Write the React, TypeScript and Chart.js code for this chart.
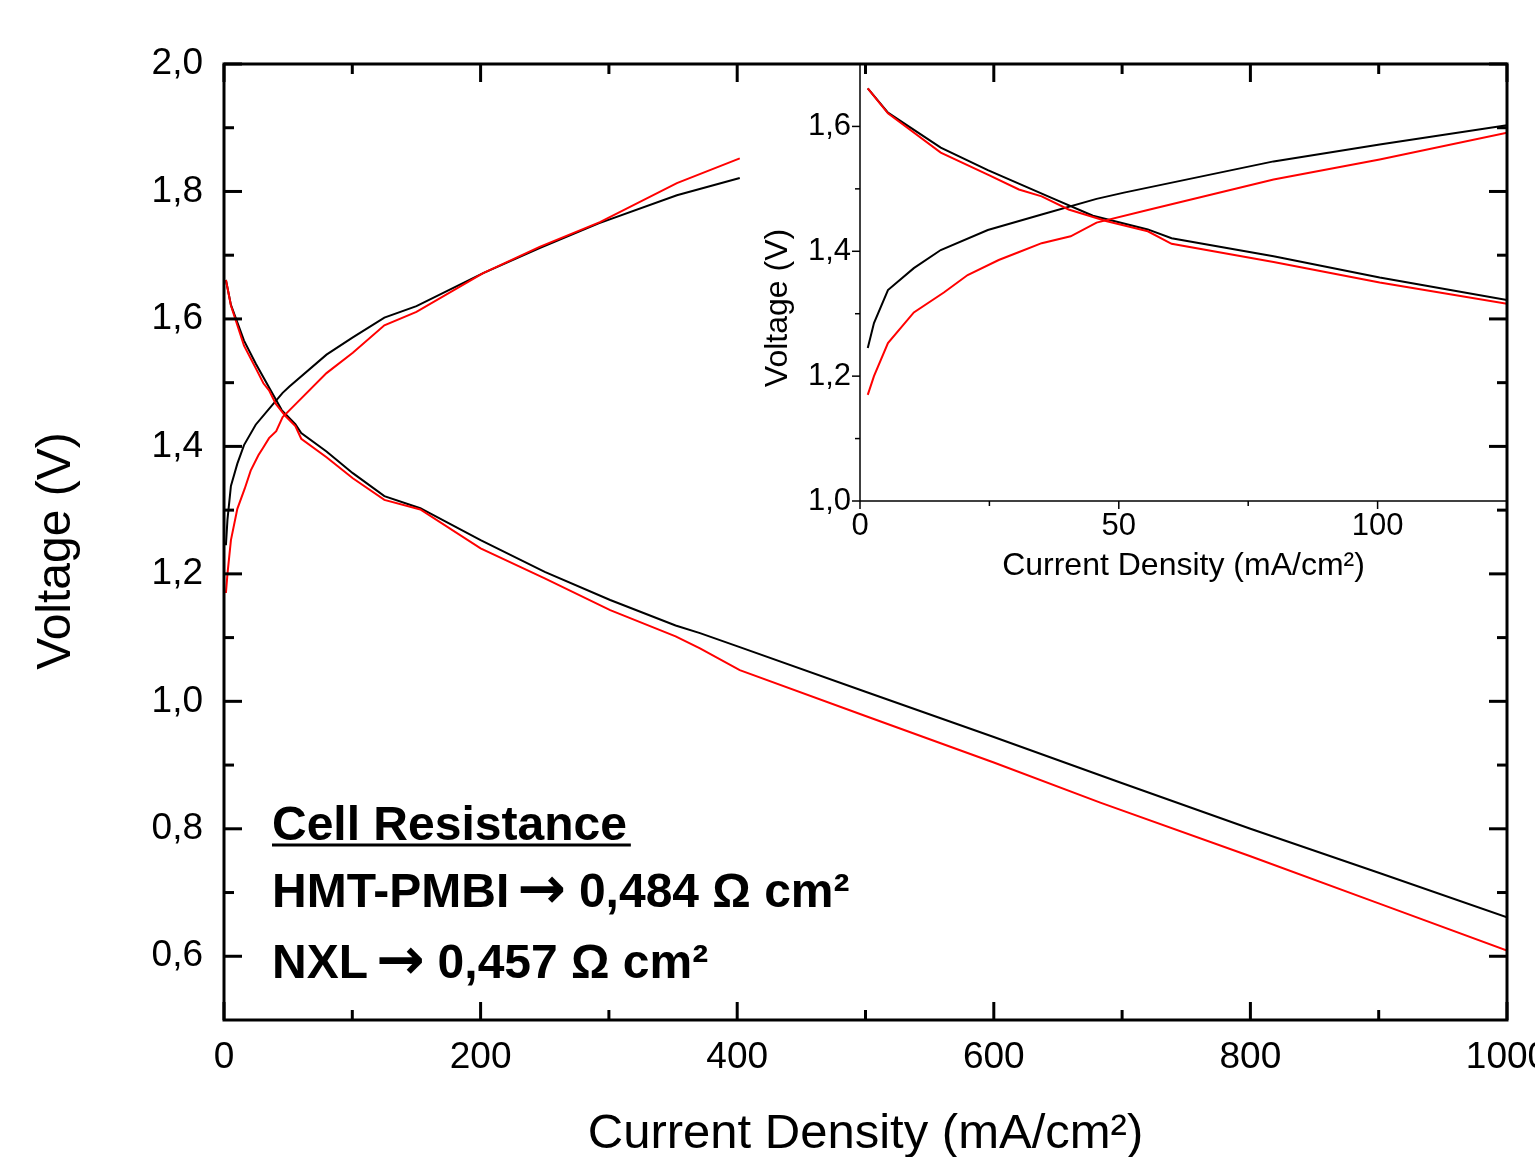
import React, { useEffect, useRef } from 'react';
import { Chart, registerables } from 'chart.js';

Chart.register(...registerables);

// ---------- data (current density mA/cm², voltage V) ----------
// HMT-PMBI (black), falling branch
const hmtFallX = [1.5, 5.4, 15.6, 24.7, 36.9, 45, 55.6, 60.2, 79.9, 100.4, 125, 153, 200, 250, 301, 352, 371, 402, 500, 600, 698, 800, 900, 1000];
const hmtFallV = [1.661, 1.622, 1.566, 1.53, 1.486, 1.457, 1.435, 1.421, 1.392, 1.358, 1.322, 1.303, 1.253, 1.203, 1.159, 1.119, 1.107, 1.085, 1.015, 0.944, 0.873, 0.8, 0.731, 0.661];
// NXL (red), falling branch
const nxlFallX = [1.5, 5.4, 15.6, 24.9, 30.7, 35.1, 40.3, 47.7, 55.6, 60.2, 79.9, 100.4, 125, 153, 200, 250, 301, 352, 371, 402, 500, 600, 683, 800, 900, 1000];
const nxlFallV = [1.661, 1.621, 1.558, 1.522, 1.499, 1.488, 1.467, 1.448, 1.432, 1.412, 1.383, 1.35, 1.316, 1.301, 1.24, 1.193, 1.143, 1.102, 1.083, 1.049, 0.977, 0.904, 0.841, 0.757, 0.683, 0.609];
// HMT-PMBI (black), rising branch
const hmtRiseX = [1.5, 2.7, 5.4, 10.4, 15.6, 24.7, 35.1, 45.7, 51, 79.9, 100.4, 125, 150, 202, 246, 292, 353, 402];
const hmtRiseV = [1.245, 1.285, 1.338, 1.373, 1.402, 1.434, 1.459, 1.484, 1.494, 1.544, 1.571, 1.602, 1.62, 1.672, 1.711, 1.75, 1.794, 1.821];
// NXL (red), rising branch
const nxlRiseX = [1.5, 2.7, 5.4, 10.4, 16.2, 20.8, 26.8, 30.5, 35.1, 40.7, 45.7, 55.6, 79.9, 100.4, 125, 150, 202, 246, 293, 353, 402];
const nxlRiseV = [1.17, 1.2, 1.253, 1.302, 1.334, 1.362, 1.386, 1.398, 1.413, 1.424, 1.446, 1.466, 1.515, 1.547, 1.59, 1.611, 1.672, 1.713, 1.752, 1.813, 1.852];

// ---------- ticks ----------
const mainXTicks = [0, 200, 400, 600, 800, 1000];
const mainXMinor = [100, 300, 500, 700, 900];
const mainYTicks = [0.6, 0.8, 1.0, 1.2, 1.4, 1.6, 1.8, 2.0];
const mainYMinor = [0.7, 0.9, 1.1, 1.3, 1.5, 1.7, 1.9];
const insetXTicks = [0, 50, 100];
const insetXMinor = [25, 75];
const insetYTicks = [1.0, 1.2, 1.4, 1.6];
const insetYMinor = [1.1, 1.3, 1.5];

// ---------- texts ----------
const xTitle = 'Current Density (mA/cm²)';
const yTitle = 'Voltage (V)';
const annotTitle = 'Cell Resistance';
const arrow = '→';
const annotNames = ['HMT-PMBI', 'NXL'];
const annotValues = ['0,484 Ω cm²', '0,457 Ω cm²'];

const FONT = "'Liberation Sans', Arial, Helvetica, sans-serif";
const ARROW_FONT = "'DejaVu Sans', sans-serif";
const BLACK = '#000000';
const RED = '#ff0000';

const pts = (xs: number[], ys: number[]) => xs.map((x, i) => ({ x, y: ys[i] }));
const fmtComma = (v: any) => Number(v).toFixed(1).replace('.', ',');

function makeDatasets(width: number) {
  const base = { showLine: true, pointRadius: 0, borderWidth: width, tension: 0, fill: false };
  return [
    { ...base, label: 'NXL falling', data: pts(nxlFallX, nxlFallV), borderColor: RED, backgroundColor: RED },
    { ...base, label: 'NXL rising', data: pts(nxlRiseX, nxlRiseV), borderColor: RED, backgroundColor: RED },
    { ...base, label: 'HMT-PMBI falling', data: pts(hmtFallX, hmtFallV), borderColor: BLACK, backgroundColor: BLACK },
    { ...base, label: 'HMT-PMBI rising', data: pts(hmtRiseX, hmtRiseV), borderColor: BLACK, backgroundColor: BLACK },
  ];
}

function seg(ctx: CanvasRenderingContext2D, x1: number, y1: number, x2: number, y2: number) {
  ctx.beginPath();
  ctx.moveTo(x1, y1);
  ctx.lineTo(x2, y2);
  ctx.stroke();
}

function drawAnnotLine(ctx: CanvasRenderingContext2D, name: string, value: string, x: number, y: number) {
  const textFont = `bold 48px ${FONT}`;
  const arrowFont = `bold 58px ${ARROW_FONT}`;
  ctx.font = textFont;
  ctx.fillText(name, x, y);
  let cx = x + ctx.measureText(name).width + 8;
  ctx.font = arrowFont;
  ctx.fillText(arrow, cx, y + 1);
  cx += ctx.measureText(arrow).width + 13;
  ctx.font = textFont;
  ctx.fillText(value, cx, y);
}

const mainDecor = {
  id: 'mainDecor',
  afterDraw(chart: any) {
    const { ctx, chartArea: a, scales } = chart;
    const xs = scales.x;
    const ys = scales.y;
    ctx.save();
    ctx.strokeStyle = BLACK;
    ctx.lineWidth = 3;
    ctx.lineCap = 'butt';
    ctx.strokeRect(a.left, a.top, a.right - a.left, a.bottom - a.top);
    const MAJ = 18;
    const MIN = 10;
    for (const v of mainXTicks) {
      const p = xs.getPixelForValue(v);
      seg(ctx, p, a.bottom, p, a.bottom - MAJ);
      seg(ctx, p, a.top, p, a.top + MAJ);
    }
    for (const v of mainXMinor) {
      const p = xs.getPixelForValue(v);
      seg(ctx, p, a.bottom, p, a.bottom - MIN);
      seg(ctx, p, a.top, p, a.top + MIN);
    }
    for (const v of mainYTicks) {
      const p = ys.getPixelForValue(v);
      seg(ctx, a.left, p, a.left + MAJ, p);
      seg(ctx, a.right, p, a.right - MAJ, p);
    }
    for (const v of mainYMinor) {
      const p = ys.getPixelForValue(v);
      seg(ctx, a.left, p, a.left + MIN, p);
      seg(ctx, a.right, p, a.right - MIN, p);
    }

    // y title
    ctx.fillStyle = BLACK;
    ctx.font = `48px ${FONT}`;
    ctx.textAlign = 'center';
    ctx.textBaseline = 'alphabetic';
    ctx.save();
    ctx.translate(70, 551);
    ctx.rotate(-Math.PI / 2);
    ctx.fillText(yTitle, 0, 0);
    ctx.restore();

    // annotation
    ctx.font = `bold 48px ${FONT}`;
    ctx.textAlign = 'left';
    ctx.fillText(annotTitle, 272, 840);
    const w = ctx.measureText(annotTitle).width;
    ctx.fillRect(272, 843.5, w + 4, 3);
    drawAnnotLine(ctx, annotNames[0], annotValues[0], 272, 907);
    drawAnnotLine(ctx, annotNames[1], annotValues[1], 272, 978);
    ctx.restore();
  },
};

const insetDecor = {
  id: 'insetDecor',
  afterDraw(chart: any) {
    const { ctx, chartArea: a, scales } = chart;
    const xs = scales.x;
    const ys = scales.y;
    ctx.save();
    ctx.strokeStyle = BLACK;
    ctx.lineWidth = 1.5;
    seg(ctx, a.left, a.top, a.left, a.bottom);
    seg(ctx, a.left, a.bottom, a.right, a.bottom);
    const MAJ = 8;
    const MIN = 5;
    for (const v of insetXTicks) {
      const p = xs.getPixelForValue(v);
      seg(ctx, p, a.bottom, p, a.bottom + MAJ);
    }
    for (const v of insetXMinor) {
      const p = xs.getPixelForValue(v);
      seg(ctx, p, a.bottom, p, a.bottom + MIN);
    }
    for (const v of insetYTicks) {
      const p = ys.getPixelForValue(v);
      seg(ctx, a.left, p, a.left - MAJ, p);
    }
    for (const v of insetYMinor) {
      const p = ys.getPixelForValue(v);
      seg(ctx, a.left, p, a.left - MIN, p);
    }
    // y title
    ctx.fillStyle = BLACK;
    ctx.font = `32px ${FONT}`;
    ctx.textAlign = 'center';
    ctx.textBaseline = 'alphabetic';
    ctx.translate(47, 258);
    ctx.rotate(-Math.PI / 2);
    ctx.fillText(yTitle, 0, 0);
    ctx.restore();
  },
};

const zeroPad = (s: any) => {
  s.paddingLeft = 0;
  s.paddingRight = 0;
  s.paddingTop = 0;
  s.paddingBottom = 0;
};

export default function App() {
  const mainRef = useRef<HTMLCanvasElement | null>(null);
  const insetRef = useRef<HTMLCanvasElement | null>(null);

  useEffect(() => {
    if (!mainRef.current || !insetRef.current) return;

    const inset = new Chart(insetRef.current, {
      type: 'scatter',
      data: { datasets: makeDatasets(2) as any },
      plugins: [insetDecor],
      options: {
        responsive: false,
        devicePixelRatio: 1,
        animation: false,
        events: [],
        layout: { padding: { left: 0, top: 14, right: 28, bottom: 0 }, autoPadding: false } as any,
        plugins: { legend: { display: false }, tooltip: { enabled: false } },
        scales: {
          x: {
            type: 'linear',
            min: 0,
            max: 125,
            grid: { display: false, drawTicks: false },
            border: { display: false },
            afterBuildTicks: (s: any) => { s.ticks = insetXTicks.map((v) => ({ value: v })); },
            afterFit: (s: any) => { s.height = 94; zeroPad(s); },
            ticks: { color: BLACK, padding: 7, font: { family: FONT, size: 31 }, maxRotation: 0, autoSkip: false, callback: (v: any) => String(v) },
            title: { display: true, text: xTitle, color: BLACK, font: { family: FONT, size: 32, lineHeight: 1 }, padding: { top: 0, bottom: 13 } },
          },
          y: {
            type: 'linear',
            min: 1.0,
            max: 1.7,
            grid: { display: false, drawTicks: false },
            border: { display: false },
            afterBuildTicks: (s: any) => { s.ticks = insetYTicks.map((v) => ({ value: v })); },
            afterFit: (s: any) => { s.width = 120; zeroPad(s); },
            ticks: { color: BLACK, padding: 9, font: { family: FONT, size: 31 }, autoSkip: false, callback: fmtComma },
          },
        },
      } as any,
    });

    const main = new Chart(mainRef.current, {
      type: 'scatter',
      data: { datasets: makeDatasets(2) as any },
      plugins: [mainDecor],
      options: {
        responsive: false,
        devicePixelRatio: 1,
        animation: false,
        events: [],
        layout: { padding: { left: 0, top: 64, right: 28, bottom: 0 }, autoPadding: false } as any,
        plugins: { legend: { display: false }, tooltip: { enabled: false } },
        scales: {
          x: {
            type: 'linear',
            min: 0,
            max: 1000,
            grid: { display: false, drawTicks: false },
            border: { display: false },
            afterBuildTicks: (s: any) => { s.ticks = mainXTicks.map((v) => ({ value: v })); },
            afterFit: (s: any) => { s.height = 137; zeroPad(s); },
            ticks: { color: BLACK, padding: 16, font: { family: FONT, size: 37 }, maxRotation: 0, autoSkip: false, callback: (v: any) => String(v) },
            title: { display: true, text: xTitle, color: BLACK, font: { family: FONT, size: 49, lineHeight: 1 }, padding: { top: 0, bottom: -2 } },
          },
          y: {
            type: 'linear',
            min: 0.5,
            max: 2.0,
            grid: { display: false, drawTicks: false },
            border: { display: false },
            afterBuildTicks: (s: any) => { s.ticks = mainYTicks.map((v) => ({ value: v })); },
            afterFit: (s: any) => { s.width = 224; zeroPad(s); },
            ticks: { color: BLACK, padding: 21, font: { family: FONT, size: 37 }, autoSkip: false, callback: fmtComma },
          },
        },
      } as any,
    });

    return () => {
      main.destroy();
      inset.destroy();
    };
  }, []);

  return (
    <div style={{ position: 'fixed', left: 0, top: 0, width: 1535, height: 1157, background: '#ffffff', overflow: 'hidden' }}>
      <canvas
        ref={insetRef}
        width={795}
        height={545}
        style={{ position: 'absolute', left: 740, top: 50, width: 795, height: 545, display: 'block', zIndex: 1 }}
      />
      <canvas
        ref={mainRef}
        width={1535}
        height={1157}
        style={{ position: 'absolute', left: 0, top: 0, width: 1535, height: 1157, display: 'block', zIndex: 2 }}
      />
    </div>
  );
}
